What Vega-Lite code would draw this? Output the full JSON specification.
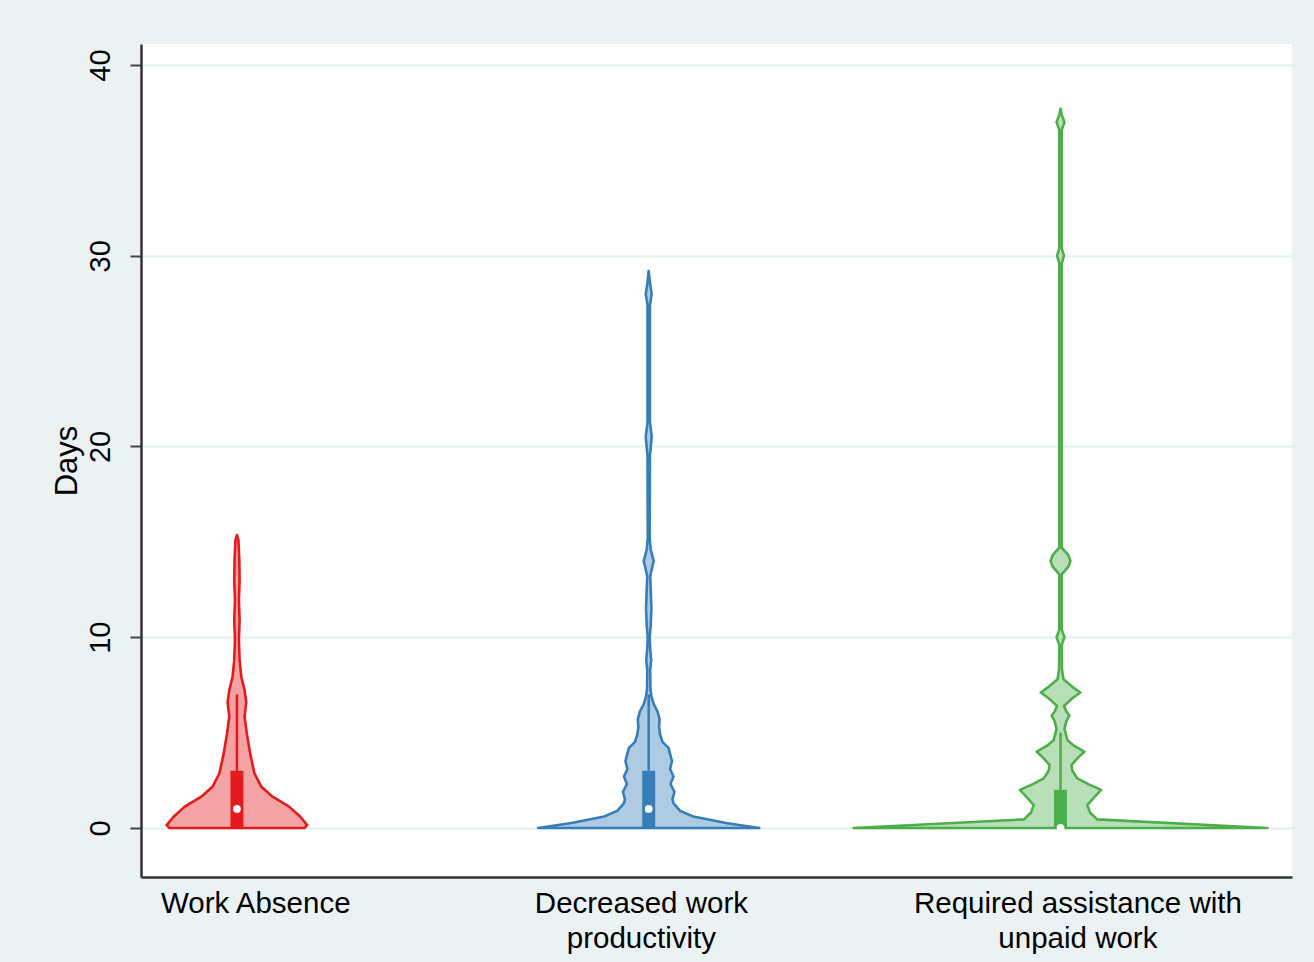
{
  "$schema": "https://vega.github.io/schema/vega-lite/v6.json",
  "width": 1151,
  "height": 833,
  "autosize": "none",
  "padding": {"left": 141, "top": 44, "right": 22, "bottom": 85},
  "background": "#EAF2F3",
  "view": {"fill": "white", "stroke": null},
  "config": {"font": "Liberation Sans"},
  "datasets": {
    "violin": [
      {"cat": "Work Absence", "days": 0, "lo": 0.8365, "hi": 1.1635},
      {"cat": "Work Absence", "days": 0.15, "lo": 0.8293, "hi": 1.1707},
      {"cat": "Work Absence", "days": 0.59, "lo": 0.8462, "hi": 1.1538},
      {"cat": "Work Absence", "days": 1.12, "lo": 0.8733, "hi": 1.1267},
      {"cat": "Work Absence", "days": 1.64, "lo": 0.9135, "hi": 1.0865},
      {"cat": "Work Absence", "days": 2.16, "lo": 0.9406, "hi": 1.0594},
      {"cat": "Work Absence", "days": 2.87, "lo": 0.9575, "hi": 1.0425},
      {"cat": "Work Absence", "days": 3.9, "lo": 0.9678, "hi": 1.0322},
      {"cat": "Work Absence", "days": 4.96, "lo": 0.976, "hi": 1.024},
      {"cat": "Work Absence", "days": 5.83, "lo": 0.9815, "hi": 1.0185},
      {"cat": "Work Absence", "days": 6.6, "lo": 0.9774, "hi": 1.0226},
      {"cat": "Work Absence", "days": 7.23, "lo": 0.9815, "hi": 1.0185},
      {"cat": "Work Absence", "days": 7.93, "lo": 0.9894, "hi": 1.0106},
      {"cat": "Work Absence", "days": 8.8, "lo": 0.9935, "hi": 1.0065},
      {"cat": "Work Absence", "days": 9.86, "lo": 0.9952, "hi": 1.0048},
      {"cat": "Work Absence", "days": 10.9, "lo": 0.9935, "hi": 1.0065},
      {"cat": "Work Absence", "days": 11.95, "lo": 0.9952, "hi": 1.0048},
      {"cat": "Work Absence", "days": 13, "lo": 0.9935, "hi": 1.0065},
      {"cat": "Work Absence", "days": 14.05, "lo": 0.9942, "hi": 1.0058},
      {"cat": "Work Absence", "days": 15.1, "lo": 0.9964, "hi": 1.0036},
      {"cat": "Work Absence", "days": 15.36, "lo": 1.0, "hi": 1.0},

      {"cat": "Decreased work productivity", "days": 0, "lo": 1.7315, "hi": 2.2685},
      {"cat": "Decreased work productivity", "days": 0.26, "lo": 1.8125, "hi": 2.1875},
      {"cat": "Decreased work productivity", "days": 0.6, "lo": 1.8918, "hi": 2.1082},
      {"cat": "Decreased work productivity", "days": 0.9, "lo": 1.9238, "hi": 2.0762},
      {"cat": "Decreased work productivity", "days": 1.3, "lo": 1.9399, "hi": 2.0601},
      {"cat": "Decreased work productivity", "days": 1.5, "lo": 1.9423, "hi": 2.0577},
      {"cat": "Decreased work productivity", "days": 1.9, "lo": 1.9375, "hi": 2.0625},
      {"cat": "Decreased work productivity", "days": 2.3, "lo": 1.9471, "hi": 2.0529},
      {"cat": "Decreased work productivity", "days": 2.7, "lo": 1.9399, "hi": 2.0601},
      {"cat": "Decreased work productivity", "days": 3.1, "lo": 1.9483, "hi": 2.0517},
      {"cat": "Decreased work productivity", "days": 3.5, "lo": 1.9435, "hi": 2.0565},
      {"cat": "Decreased work productivity", "days": 3.9, "lo": 1.9483, "hi": 2.0517},
      {"cat": "Decreased work productivity", "days": 4.2, "lo": 1.9519, "hi": 2.0481},
      {"cat": "Decreased work productivity", "days": 4.5, "lo": 1.9663, "hi": 2.0337},
      {"cat": "Decreased work productivity", "days": 4.9, "lo": 1.9724, "hi": 2.0276},
      {"cat": "Decreased work productivity", "days": 5.3, "lo": 1.9748, "hi": 2.0252},
      {"cat": "Decreased work productivity", "days": 5.7, "lo": 1.9736, "hi": 2.0264},
      {"cat": "Decreased work productivity", "days": 6.1, "lo": 1.9784, "hi": 2.0216},
      {"cat": "Decreased work productivity", "days": 6.5, "lo": 1.988, "hi": 2.012},
      {"cat": "Decreased work productivity", "days": 6.9, "lo": 1.9935, "hi": 2.0065},
      {"cat": "Decreased work productivity", "days": 7.3, "lo": 1.9959, "hi": 2.0041},
      {"cat": "Decreased work productivity", "days": 8.3, "lo": 1.9964, "hi": 2.0036},
      {"cat": "Decreased work productivity", "days": 8.8, "lo": 1.994, "hi": 2.006},
      {"cat": "Decreased work productivity", "days": 9.4, "lo": 1.9964, "hi": 2.0036},
      {"cat": "Decreased work productivity", "days": 10.0, "lo": 1.9976, "hi": 2.0024},
      {"cat": "Decreased work productivity", "days": 10.6, "lo": 1.9952, "hi": 2.0048},
      {"cat": "Decreased work productivity", "days": 11.5, "lo": 1.9935, "hi": 2.0065},
      {"cat": "Decreased work productivity", "days": 12.6, "lo": 1.9952, "hi": 2.0048},
      {"cat": "Decreased work productivity", "days": 13.2, "lo": 1.9964, "hi": 2.0036},
      {"cat": "Decreased work productivity", "days": 14.0, "lo": 1.988, "hi": 2.012},
      {"cat": "Decreased work productivity", "days": 14.6, "lo": 1.9952, "hi": 2.0048},
      {"cat": "Decreased work productivity", "days": 15.2, "lo": 1.9976, "hi": 2.0024},
      {"cat": "Decreased work productivity", "days": 19.5, "lo": 1.9971, "hi": 2.0029},
      {"cat": "Decreased work productivity", "days": 20.5, "lo": 1.9928, "hi": 2.0072},
      {"cat": "Decreased work productivity", "days": 21.3, "lo": 1.9971, "hi": 2.0029},
      {"cat": "Decreased work productivity", "days": 27.4, "lo": 1.9971, "hi": 2.0029},
      {"cat": "Decreased work productivity", "days": 28.0, "lo": 1.9928, "hi": 2.0072},
      {"cat": "Decreased work productivity", "days": 28.5, "lo": 1.9964, "hi": 2.0036},
      {"cat": "Decreased work productivity", "days": 29.2, "lo": 2.0, "hi": 2.0},

      {"cat": "Required assistance with unpaid work", "days": 0, "lo": 2.4976, "hi": 3.5024},
      {"cat": "Required assistance with unpaid work", "days": 0.45, "lo": 2.9111, "hi": 3.0889},
      {"cat": "Required assistance with unpaid work", "days": 0.8, "lo": 2.9279, "hi": 3.0721},
      {"cat": "Required assistance with unpaid work", "days": 1.2, "lo": 2.9351, "hi": 3.0649},
      {"cat": "Required assistance with unpaid work", "days": 1.6, "lo": 2.9183, "hi": 3.0817},
      {"cat": "Required assistance with unpaid work", "days": 2.0, "lo": 2.9014, "hi": 3.0986},
      {"cat": "Required assistance with unpaid work", "days": 2.3, "lo": 2.9327, "hi": 3.0673},
      {"cat": "Required assistance with unpaid work", "days": 2.6, "lo": 2.9591, "hi": 3.0409},
      {"cat": "Required assistance with unpaid work", "days": 3.0, "lo": 2.9712, "hi": 3.0288},
      {"cat": "Required assistance with unpaid work", "days": 3.3, "lo": 2.9736, "hi": 3.0264},
      {"cat": "Required assistance with unpaid work", "days": 3.7, "lo": 2.9567, "hi": 3.0433},
      {"cat": "Required assistance with unpaid work", "days": 4.0, "lo": 2.9423, "hi": 3.0577},
      {"cat": "Required assistance with unpaid work", "days": 4.3, "lo": 2.9663, "hi": 3.0337},
      {"cat": "Required assistance with unpaid work", "days": 4.6, "lo": 2.9832, "hi": 3.0168},
      {"cat": "Required assistance with unpaid work", "days": 5.2, "lo": 2.9904, "hi": 3.0096},
      {"cat": "Required assistance with unpaid work", "days": 5.6, "lo": 2.9856, "hi": 3.0144},
      {"cat": "Required assistance with unpaid work", "days": 5.9, "lo": 2.9784, "hi": 3.0216},
      {"cat": "Required assistance with unpaid work", "days": 6.1, "lo": 2.9856, "hi": 3.0144},
      {"cat": "Required assistance with unpaid work", "days": 6.4, "lo": 2.9916, "hi": 3.0084},
      {"cat": "Required assistance with unpaid work", "days": 6.8, "lo": 2.9712, "hi": 3.0288},
      {"cat": "Required assistance with unpaid work", "days": 7.1, "lo": 2.9519, "hi": 3.0481},
      {"cat": "Required assistance with unpaid work", "days": 7.4, "lo": 2.9712, "hi": 3.0288},
      {"cat": "Required assistance with unpaid work", "days": 7.8, "lo": 2.9928, "hi": 3.0072},
      {"cat": "Required assistance with unpaid work", "days": 8.3, "lo": 2.9964, "hi": 3.0036},
      {"cat": "Required assistance with unpaid work", "days": 9.6, "lo": 2.9971, "hi": 3.0029},
      {"cat": "Required assistance with unpaid work", "days": 10.0, "lo": 2.9904, "hi": 3.0096},
      {"cat": "Required assistance with unpaid work", "days": 10.4, "lo": 2.9971, "hi": 3.0029},
      {"cat": "Required assistance with unpaid work", "days": 13.3, "lo": 2.9971, "hi": 3.0029},
      {"cat": "Required assistance with unpaid work", "days": 13.7, "lo": 2.9808, "hi": 3.0192},
      {"cat": "Required assistance with unpaid work", "days": 14.0, "lo": 2.976, "hi": 3.024},
      {"cat": "Required assistance with unpaid work", "days": 14.3, "lo": 2.9808, "hi": 3.0192},
      {"cat": "Required assistance with unpaid work", "days": 14.7, "lo": 2.9971, "hi": 3.0029},
      {"cat": "Required assistance with unpaid work", "days": 29.6, "lo": 2.9971, "hi": 3.0029},
      {"cat": "Required assistance with unpaid work", "days": 30.0, "lo": 2.9916, "hi": 3.0084},
      {"cat": "Required assistance with unpaid work", "days": 30.4, "lo": 2.9971, "hi": 3.0029},
      {"cat": "Required assistance with unpaid work", "days": 36.6, "lo": 2.9971, "hi": 3.0029},
      {"cat": "Required assistance with unpaid work", "days": 37.0, "lo": 2.9904, "hi": 3.0096},
      {"cat": "Required assistance with unpaid work", "days": 37.4, "lo": 2.9971, "hi": 3.0029},
      {"cat": "Required assistance with unpaid work", "days": 37.7, "lo": 3.0, "hi": 3.0}
    ],
    "box": [
      {"cat": "Work Absence", "pos": 1, "q1": 0, "q3": 3, "median": 1, "whisker": 7},
      {"cat": "Decreased work productivity", "pos": 2, "q1": 0, "q3": 3, "median": 1, "whisker": 7},
      {"cat": "Required assistance with unpaid work", "pos": 3, "q1": 0, "q3": 2, "median": 0, "whisker": 5}
    ]
  },
  "layer": [
    {
      "data": {"name": "violin"},
      "mark": {"type": "area", "orient": "horizontal", "strokeWidth": 2.6, "strokeJoin": "round"},
      "encoding": {
        "y": {
          "field": "days", "type": "quantitative",
          "scale": {"domain": [-2.569, 41.101], "nice": false, "zero": false},
          "axis": {
            "values": [0, 10, 20, 30, 40],
            "title": "Days",
            "titleFontSize": 31, "titleFontWeight": "normal", "titleColor": "#000", "titlePadding": 3,
            "labelFontSize": 29, "labelColor": "#000", "labelAngle": -90, "labelAlign": "center", "labelBaseline": "bottom", "labelPadding": 15,
            "grid": true, "gridColor": "#E4EEF0", "gridWidth": 2,
            "tickColor": "#444", "tickWidth": 2, "tickSize": 11,
            "domainColor": "#333", "domainWidth": 2.5
          }
        },
        "x": {
          "field": "lo", "type": "quantitative",
          "scale": {"domain": [0.7792, 3.55], "nice": false, "zero": false},
          "axis": {
            "values": [1.0445, 1.981, 3.041],
            "labelExpr": "datum.value < 1.5 ? 'Work Absence' : datum.value < 2.5 ? ['Decreased work', 'productivity'] : ['Required assistance with', 'unpaid work']",
            "title": null, "grid": false, "ticks": false,
            "labelFontSize": 29.5, "labelColor": "#000", "labelPadding": 12, "labelLineHeight": 35, "labelLimit": 0,
            "labelBaseline": "top", "labelAlign": "center", "labelFlush": false, "labelOverlap": false, "labelBound": false,
            "domainColor": "#333", "domainWidth": 2.5
          }
        },
        "x2": {"field": "hi"},
        "fill": {
          "field": "cat", "type": "nominal", "legend": null,
          "scale": {"domain": ["Work Absence", "Decreased work productivity", "Required assistance with unpaid work"], "range": ["#F4A3A4", "#AFCBE3", "#B8DFB7"]}
        },
        "stroke": {
          "field": "cat", "type": "nominal", "legend": null,
          "scale": {"domain": ["Work Absence", "Decreased work productivity", "Required assistance with unpaid work"], "range": ["#E41A1C", "#377EB8", "#4DAF4A"]}
        }
      }
    },
    {
      "data": {"name": "box"},
      "mark": {"type": "rule", "strokeWidth": 2.6},
      "encoding": {
        "x": {"field": "pos", "type": "quantitative"},
        "y": {"field": "q3", "type": "quantitative"},
        "y2": {"field": "whisker"},
        "color": {
          "field": "cat", "type": "nominal", "legend": null,
          "scale": {"domain": ["Work Absence", "Decreased work productivity", "Required assistance with unpaid work"], "range": ["#E41A1C", "#377EB8", "#4DAF4A"]}
        }
      }
    },
    {
      "data": {"name": "box"},
      "mark": {"type": "bar", "size": 13},
      "encoding": {
        "x": {"field": "pos", "type": "quantitative"},
        "y": {"field": "q1", "type": "quantitative"},
        "y2": {"field": "q3"},
        "color": {"field": "cat", "type": "nominal", "legend": null}
      }
    },
    {
      "data": {"name": "box"},
      "mark": {"type": "point", "filled": true, "shape": "circle", "size": 60, "opacity": 1, "fill": "white", "stroke": null},
      "encoding": {
        "x": {"field": "pos", "type": "quantitative"},
        "y": {"field": "median", "type": "quantitative"}
      }
    }
  ]
}
